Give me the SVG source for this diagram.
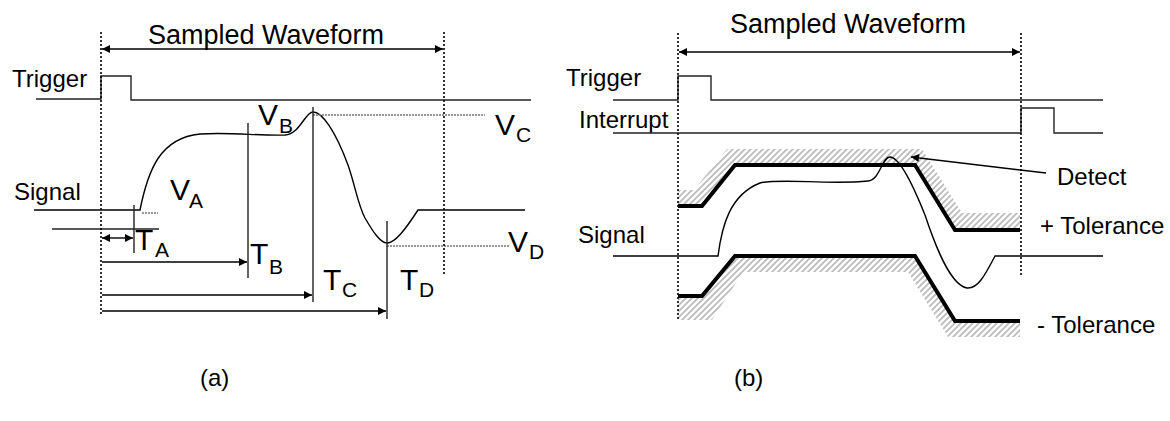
<svg xmlns="http://www.w3.org/2000/svg" width="1170" height="421" viewBox="0 0 1170 421">
<style>
text{font-family:"Liberation Sans",Arial,sans-serif;fill:#000}
.lbl{font-size:24px}
.ttl{font-size:27px}
.big{font-size:30px}
.sub{font-size:21px}
.ln{fill:none;stroke:#222;stroke-width:1.4}
.sig{fill:none;stroke:#000;stroke-width:1.4}
.dot{fill:none;stroke:#000;stroke-width:1.6;stroke-dasharray:2 2}
.gdot{fill:none;stroke:#777;stroke-width:1.6;stroke-dasharray:2 1}
.tol{fill:none;stroke:#000;stroke-width:4;stroke-linejoin:miter}
.hatch{fill:url(#hp);stroke:none}
.arr{fill:none;stroke:#000;stroke-width:1.4;marker-end:url(#ah)}
.arr2{fill:none;stroke:#000;stroke-width:1.4;marker-start:url(#ahs);marker-end:url(#ah)}
</style>
<defs>
<marker id="ah" viewBox="0 0 10 10" refX="10" refY="5" markerWidth="10" markerHeight="8" markerUnits="userSpaceOnUse" orient="auto"><path d="M0,0 L10,5 L0,10 Z" fill="#000"/></marker>
<marker id="ahs" viewBox="0 0 10 10" refX="0" refY="5" markerWidth="10" markerHeight="8" markerUnits="userSpaceOnUse" orient="auto"><path d="M10,0 L0,5 L10,10 Z" fill="#000"/></marker>
<pattern id="hp" width="6" height="6" patternUnits="userSpaceOnUse"><path d="M0,6 L6,0 M-1,1 L1,-1 M5,7 L7,5" stroke="#bbb" stroke-width="1.8"/></pattern>
</defs>

<g id="panel-a">
<g id="a-title"><text class="ttl" x="148" y="44">Sampled Waveform</text></g>
<g id="a-trigger"><text class="lbl" x="12" y="87">Trigger</text><path class="ln" d="M36,99 L101,99 L101,76 L131,76 L131,100 L531,100"/></g>
<g id="a-signal"><text class="lbl" x="14" y="200">Signal</text>
<path class="sig" d="M34,210 L140,210 C148,170 160,138 200,134 C230,132 260,136 285,135 C300,134 305,112 313,112 C322,112 335,130 348,165 C355,185 358,205 365,218 C372,230 380,243 387,243 C395,243 405,230 418,210 L525,210"/></g>
<g id="a-va"><text class="big" x="170" y="200">V</text><text class="sub" x="189" y="208">A</text><path class="gdot" d="M142,213 L158,213"/></g>
<g id="a-vb"><text class="big" x="258" y="125">V</text><text class="sub" x="279" y="133">B</text></g>
<g id="a-vc"><text class="big" x="495" y="135">V</text><text class="sub" x="516" y="142">C</text><path class="gdot" d="M313,115 L485,115"/></g>
<g id="a-vd"><text class="big" x="508" y="252">V</text><text class="sub" x="529" y="259">D</text><path class="gdot" d="M387,246 L510,246"/></g>
<g id="a-ta"><text class="big" x="135" y="250">T</text><text class="sub" x="155" y="257">A</text><path class="ln" d="M52,229 L159,229 M134,205 L134,253"/></g>
<g id="a-tb"><text class="big" x="250" y="264">T</text><text class="sub" x="269" y="274">B</text><path class="ln" d="M248,123 L248,278"/></g>
<g id="a-tc"><text class="big" x="323" y="290">T</text><text class="sub" x="342" y="297">C</text><path class="ln" d="M313,107 L313,302"/></g>
<g id="a-td"><text class="big" x="400" y="290">T</text><text class="sub" x="419" y="297">D</text><path class="ln" d="M387,221 L387,319"/></g>
<g id="a-caption"><text class="lbl" x="200" y="386">(a)</text></g>
</g>

<g id="panel-b">
<g id="b-title"><text class="ttl" x="730" y="33">Sampled Waveform</text></g>
<g id="b-trigger"><text class="lbl" x="566" y="86">Trigger</text><path class="ln" d="M613,100 L678,100 L678,76 L711,76 L711,100 L1103,100"/></g>
<g id="b-interrupt"><text class="lbl" x="579" y="128">Interrupt</text><path class="ln" d="M613,133 L1021,133 L1021,108 L1054,108 L1054,133 L1103,133"/></g>
<g id="b-upper-tol">
<path class="hatch" d="M678,206 L702,206 L735,165 L915,165 L955,230 L1020,230 L1020,213 L962,213 L922,149 L727,149 L694,190 L678,190 Z"/>
<path class="tol" d="M678,206 L702,206 L735,165 L915,165 L955,230 L1020,230"/>
<text class="lbl" x="1040" y="234">+ Tolerance</text></g>
<g id="b-lower-tol">
<path class="hatch" d="M678,296 L702,296 L735,256 L915,256 L955,321 L1020,321 L1020,337 L948,337 L908,272 L743,272 L712,320 L678,320 Z"/>
<path class="tol" d="M678,296 L702,296 L735,256 L915,256 L955,321 L1020,321"/>
<text class="lbl" x="1037" y="333">- Tolerance</text></g>
<g id="b-signal"><text class="lbl" x="578" y="243">Signal</text>
<path class="sig" d="M613,256 L718,256 C722,225 730,195 760,183 C780,178 830,185 868,181 C880,180 882,157 890,157 C900,157 915,190 925,215 C935,245 950,285 967,288 C978,289 985,275 995,256 L1103,256"/></g>
<g id="b-detect"><text class="lbl" x="1057" y="185">Detect</text></g>
<g id="b-caption"><text class="lbl" x="734" y="386">(b)</text></g>
</g>

<g id="connectors">
<path class="dot" d="M101,32 L101,316 M444,32 L444,275"/>
<path class="arr2" d="M102,49 L443,49"/>
<path class="arr2" d="M102,238 L133,238"/>
<path class="arr" d="M102,262 L247,262"/>
<path class="arr" d="M102,295 L312,295"/>
<path class="arr" d="M102,311 L386,311"/>
<path class="dot" d="M678,33 L678,320 M1021,33 L1021,277"/>
<path class="arr2" d="M679,52 L1020,52"/>
<path class="arr" d="M1046,173 L911,157"/>
</g>
</svg>
